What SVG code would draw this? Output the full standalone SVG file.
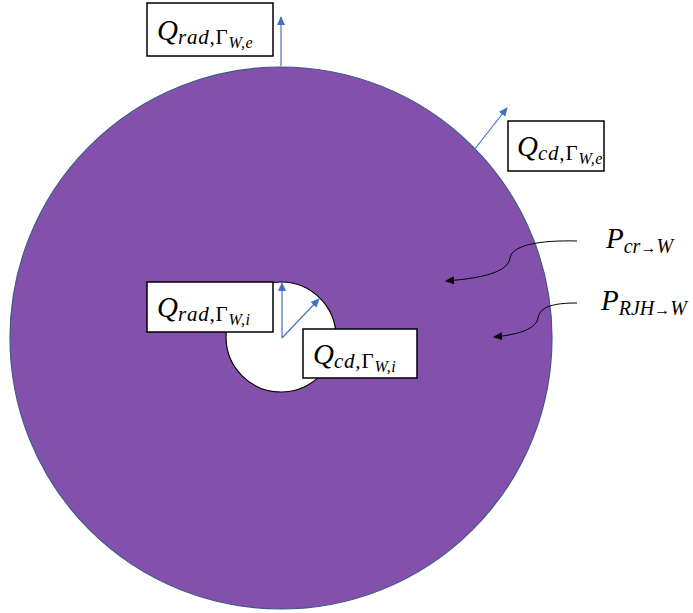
<svg xmlns="http://www.w3.org/2000/svg" width="693" height="613" viewBox="0 0 693 613">
<style>
.box{fill:#fff;stroke:#000;stroke-width:1.5}
.q{font-family:"Liberation Serif","DejaVu Serif",serif;font-style:italic;fill:#000}
.big{font-size:29px}
.s1{font-size:21px;letter-spacing:0.8px}
.s2{font-size:16px;letter-spacing:0.5px}
.ps{font-size:20px}
.ar{font-size:16px;font-style:normal}
.up{font-style:normal}
.blue{stroke:#4472C4;stroke-width:1.2;fill:none}
.blk{stroke:#000;stroke-width:1;fill:none}
</style>
<defs>
<marker id="ab" markerWidth="10" markerHeight="10" refX="8" refY="5" orient="auto" markerUnits="userSpaceOnUse">
<path d="M0,1 L9,5 L0,9 Z" fill="#4472C4"/>
</marker>
<marker id="ak" markerWidth="10" markerHeight="10" refX="8" refY="5" orient="auto" markerUnits="userSpaceOnUse">
<path d="M0,1 L9,5 L0,9 Z" fill="#000"/>
</marker>
</defs>
<g id="outer"><circle cx="281" cy="338" r="271" fill="#8351AB" stroke="#3D5A8A" stroke-width="1.2"/></g>
<g id="inner"><circle cx="281" cy="337" r="55" fill="#fff" stroke="#000" stroke-width="1.2"/></g>
<g id="connectors">
<line class="blue" x1="281" y1="66" x2="281" y2="17" marker-end="url(#ab)"/>
<line class="blue" x1="474" y1="150" x2="507" y2="108" marker-end="url(#ab)"/>
<line class="blue" x1="282" y1="338" x2="282" y2="283" marker-end="url(#ab)"/>
<line class="blue" x1="282" y1="338" x2="319" y2="299" marker-end="url(#ab)"/>
<path class="blk" d="M577,241 C540,240 512,245 510,258 C508,275 470,279 446,281" marker-end="url(#ak)"/>
<path class="blk" d="M577,303 C555,303 540,306 538,318 C536,330 515,335 494,337" marker-end="url(#ak)"/>
</g>
<g id="qrad-e">
<rect class="box" x="147" y="3" width="126" height="53"/>
<text class="q big" x="157" y="40">Q<tspan class="s1" dy="4">rad,</tspan><tspan class="s1 up">Γ</tspan><tspan class="s2" dy="4">W,e</tspan></text>
</g>
<g id="qcd-e">
<rect class="box" x="508" y="121" width="96" height="50"/>
<text class="q big" x="517" y="156">Q<tspan class="s1" dy="4">cd,</tspan><tspan class="s1 up">Γ</tspan><tspan class="s2" dy="4">W,e</tspan></text>
</g>
<g id="qrad-i">
<rect class="box" x="147" y="282" width="126" height="50"/>
<text class="q big" x="157" y="317">Q<tspan class="s1" dy="4">rad,</tspan><tspan class="s1 up">Γ</tspan><tspan class="s2" dy="4">W,i</tspan></text>
</g>
<g id="qcd-i">
<rect class="box" x="303" y="329" width="114" height="49"/>
<text class="q big" x="313" y="364">Q<tspan class="s1" dy="4">cd,</tspan><tspan class="s1 up">Γ</tspan><tspan class="s2" dy="4">W,i</tspan></text>
</g>
<g id="pcr">
<text class="q big" x="606" y="248">P<tspan class="ps" dy="5">cr</tspan><tspan class="ar">→</tspan><tspan class="ps">W</tspan></text>
</g>
<g id="prjh">
<text class="q big" x="601" y="310">P<tspan class="ps" dy="5">RJH</tspan><tspan class="ar">→</tspan><tspan class="ps">W</tspan></text>
</g>
</svg>
